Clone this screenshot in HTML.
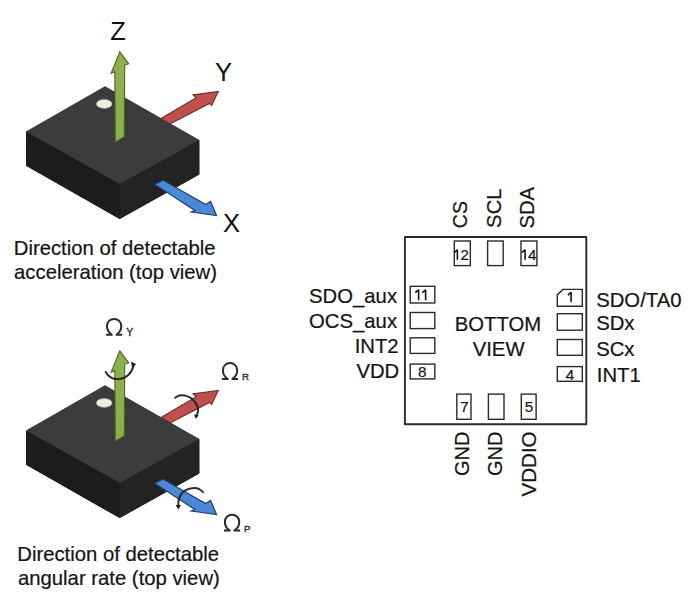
<!DOCTYPE html>
<html><head><meta charset="utf-8">
<style>
html,body{margin:0;padding:0;background:#fff;}
body{width:700px;height:605px;overflow:hidden;}
svg{display:block;}
text{font-family:"Liberation Sans",sans-serif;}
</style></head>
<body>
<svg width="700" height="605" viewBox="0 0 700 605">
<defs>
<g id="cube">
  <path d="M105,86.5 L199.3,140.2 L199.3,174.4 L119.7,219.1 L26.1,165.8 L26.1,131.7 Z" fill="#222"/>
  <path d="M105,86.5 L199.3,140.2 L119.7,184 L26.1,131.7 Z" fill="#3c3c3c" stroke="#3c3c3c" stroke-width="0.3"/>
  <path d="M26.1,131.7 L119.7,184 L119.7,219.1 L26.1,165.8 Z" fill="#1c1c1c"/>
  <path d="M119.7,184 L199.3,140.2 L199.3,174.4 L119.7,219.1 Z" fill="#232323"/>
  <ellipse cx="104.2" cy="103.9" rx="7.9" ry="4.5" fill="#efeee2" stroke="#9a9a90" stroke-width="0.6"/>
</g>
<g id="fig">
  <path d="M150,125 L196.3,97.7 L192.9,94.9 L218.3,91.4 L211.7,105.4 L209.4,103.4 L160,129.2 Z" fill="#c0504d" stroke="#6e2a28" stroke-width="1.1"/>
  <use href="#cube"/>
  <path d="M119.8,51.9 L128.7,63.8 L124.7,65.3 L124.3,136.6 L115.3,142.1 L114.8,71.7 L111.1,73.2 Z" fill="#8db04c" stroke="#4a6626" stroke-width="1.1"/>
  <path d="M154.8,184.4 L162.9,180.1 L205.7,204.5 L210.6,201.3 L216.5,215.5 L191.3,212 L195,210.4 Z" fill="#4a88d8" stroke="#1f3f6e" stroke-width="1.2"/>
</g>
</defs>
<use href="#fig"/>
<use href="#fig" transform="translate(0,299)"/>

<g fill="#111">
<text x="110.3" y="39.8" font-size="25.5">Z</text>
<text x="215.1" y="81" font-size="25.5">Y</text>
<text x="222.9" y="232" font-size="25.5">X</text>
</g>
<g font-size="20.3" fill="#151515" stroke="#151515" stroke-width="0.22">
<text x="13.8" y="254.7">Direction of detectable</text>
<text x="14.1" y="278.6">acceleration (top view)</text>
<text x="17.3" y="561.1">Direction of detectable</text>
<text x="18" y="585.4">angular rate (top view)</text>
</g>
<!-- omega labels -->
<g fill="none" stroke="#2a2a2a">
<g id="om" transform="translate(222,362.2)">
<path d="M5.3,16.3 C2.5,14.5 0.9,11.6 0.9,8.1 C0.9,3.8 4,0.9 8.05,0.9 C12.1,0.9 15.2,3.8 15.2,8.1 C15.2,11.6 13.6,14.5 10.8,16.3" stroke-width="2"/>
<path d="M0,16.75 H6.5 M9.6,16.75 H16.1" stroke-width="2.1"/>
</g>
<use href="#om" transform="translate(-115.9,-44.2)"/>
<use href="#om" transform="translate(2,151.6)"/>
</g>
<g fill="#333" stroke="#333" stroke-width="0.45">
<text x="126.3" y="335.7" font-size="10.5">Y</text>
<text x="242" y="380.3" font-size="9.6">R</text>
<text x="244" y="531.6" font-size="9.6">P</text>
</g>
<!-- rotation arcs -->
<g fill="none" stroke="#1e1e1e" stroke-width="2" stroke-linecap="round" opacity="0.92">
<path d="M105.7,372 C109,378 114,379.5 119,379 C126,378.5 132,373 133.4,366"/>
<path d="M175.1,397.9 C177.5,395.5 180.5,395.1 183.2,395.3 C188.5,395.9 193.5,399.5 196,403.5 C198.5,407.5 198.7,411.5 196.9,415"/>
<path d="M203,492.1 C200,489 197,488 194.3,488.1 C189,488.3 185,490 182,493 C179,496.5 178.3,500 178.2,505"/>
</g>
<g fill="#1e1e1e">
<path d="M131.2,361.4 L136.2,364.2 L132,367.5 Z"/>
<path d="M194.3,414.3 L198.8,415.6 L195.6,418.8 Z"/>
<path d="M175.7,505 L181,505 L178.4,509.5 Z"/>
</g>

<!-- chip -->
<g fill="none" stroke="#2b2b2b">
<rect x="404.9" y="237" width="181.4" height="187.3" stroke-width="1.9" stroke-linejoin="round"/>
<g stroke-width="1.4">
<rect x="454.3" y="241" width="16" height="24.6"/>
<rect x="487.6" y="241" width="15.6" height="24.6"/>
<rect x="521" y="241" width="15.9" height="24.6"/>
<rect x="456.8" y="394.1" width="14.2" height="25.2"/>
<rect x="488.4" y="394.1" width="15.6" height="25.2"/>
<rect x="521.3" y="394.1" width="14.8" height="25.2"/>
<rect x="410.2" y="286.3" width="24.6" height="16.7"/>
<rect x="410.2" y="312.5" width="24.6" height="16.1"/>
<rect x="410.2" y="337.8" width="24.6" height="15.6"/>
<rect x="410.2" y="364.1" width="24.6" height="14.8"/>
<path d="M557.3,306.2 L557.3,294.9 L562.8,289.4 L582.3,289.4 L582.3,306.2 Z"/>
<rect x="557.3" y="313.7" width="25" height="16.5"/>
<rect x="557.3" y="339.5" width="25" height="15.8"/>
<rect x="557.3" y="366.6" width="25" height="14.7"/>
</g>
</g>
<g font-size="20.3" fill="#151515" stroke="#151515" stroke-width="0.22">
<text x="309.1" y="303.2">SDO_aux</text>
<text x="309.1" y="327.8">OCS_aux</text>
<text x="354.7" y="353">INT2</text>
<text x="356.4" y="377.8">VDD</text>
<text x="596.2" y="306.7">SDO/TA0</text>
<text x="596.2" y="329.7">SDx</text>
<text x="596.2" y="356.1">SCx</text>
<text x="596.8" y="382.1">INT1</text>
<text x="454.7" y="330.5">BOTTOM</text>
<text x="472.7" y="355.5">VIEW</text>
<text transform="translate(466.6,228.2) rotate(-90)" font-size="19.5">CS</text>
<text transform="translate(501.4,227.9) rotate(-90)">SCL</text>
<text transform="translate(534.2,228.6) rotate(-90)">SDA</text>
<text transform="translate(469.2,476.1) rotate(-90)" font-size="20">GND</text>
<text transform="translate(502.4,476.1) rotate(-90)" font-size="20">GND</text>
<text transform="translate(536.3,496.6) rotate(-90)" font-size="20.6">VDDIO</text>
</g>
<g font-size="15.2" fill="#151515" stroke="#151515" stroke-width="0.2">
<text x="460.5" y="259.6">2</text>
<text x="528" y="259.6">4</text>
<text x="565.7" y="379.7">4</text>
<text x="418" y="376.9">8</text>
<text x="460.2" y="412.1">7</text>
<text x="524.7" y="412.1">5</text>
</g>
<g fill="none" stroke="#151515" stroke-width="1.6" stroke-linejoin="bevel">
<path d="M415.3,292.6 L418.6,289.8 L418.6,300.2"/>
<path d="M422.3,292.6 L425.6,289.8 L425.6,300.2"/>
<path d="M454.1,252.6 L457.4,249.8 L457.4,259.7"/>
<path d="M521.8,252.6 L525.1,249.8 L525.1,259.7"/>
<path d="M567.9,295.1 L571.1,292.3 L571.1,302.2"/>
</g>
</svg>
</body></html>
